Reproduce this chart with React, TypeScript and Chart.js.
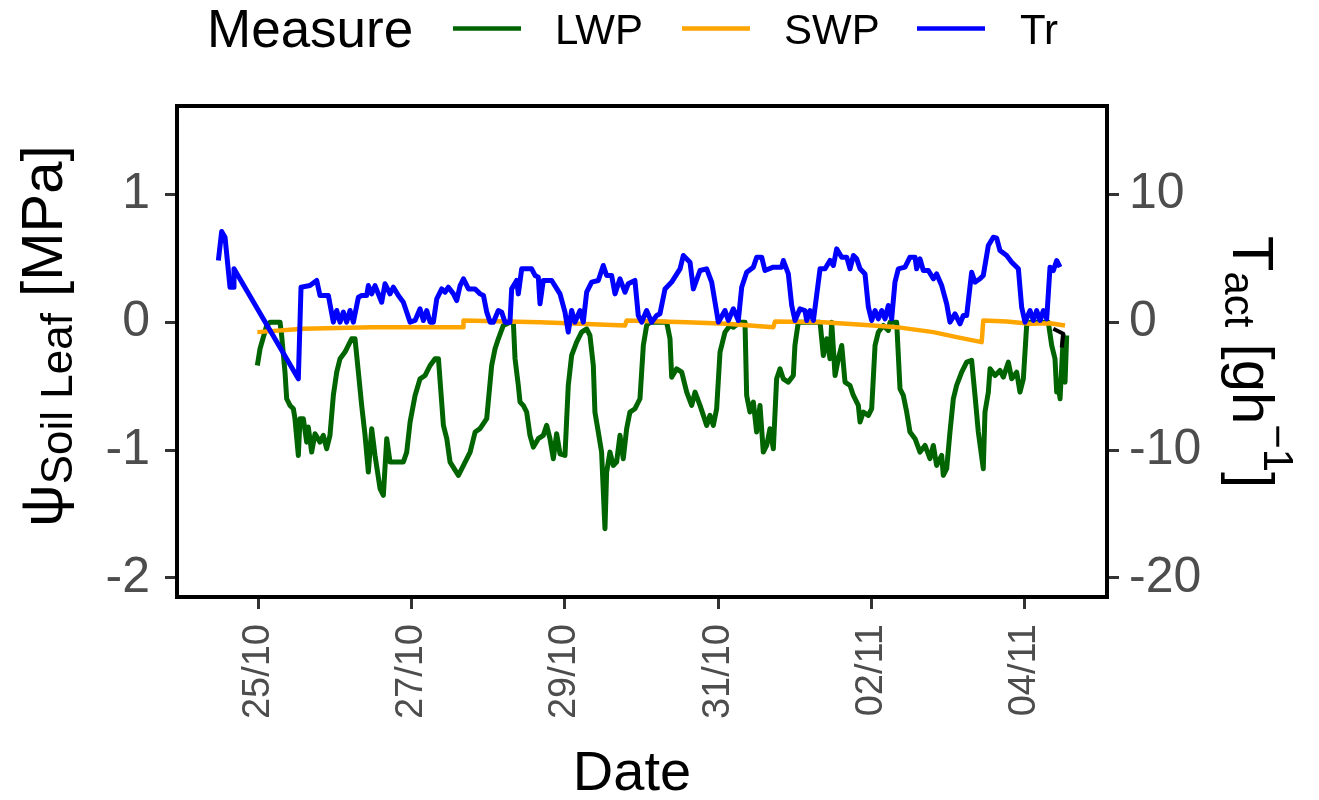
import React, { useEffect, useRef } from "react";
import { Chart, registerables } from "chart.js";

Chart.register(...registerables);

// ---- Data (x = days since 25/10 00:00) ----
const tickDays = [0, 2, 4, 6, 8, 10];
const tickLabels = ["25/10", "27/10", "29/10", "31/10", "02/11", "04/11"];
const leftTicks = [-2, -1, 0, 1];
const rightTicks = [-20, -10, 0, 10];
const legendLabels = ["LWP", "SWP", "Tr"];

const lwpDays = [
  -0.015, 0.02, 0.107, 0.15, 0.281, 0.302, 0.346, 0.368, 0.411, 0.455, 0.476, 0.52, 0.542, 0.585, 0.629, 0.65, 0.694, 0.738, 0.803, 0.846, 0.89, 0.933, 0.977,
  1.021, 1.064, 1.129, 1.173, 1.216, 1.26, 1.304, 1.347, 1.391, 1.434, 1.478, 1.521, 1.587, 1.63, 1.674, 1.717, 1.804, 1.891, 1.935, 1.979,
  2.044, 2.109, 2.175, 2.24, 2.305, 2.349, 2.414, 2.458, 2.501, 2.61, 2.676, 2.763, 2.828,
  2.892, 2.979, 3.044, 3.088, 3.131, 3.196, 3.283, 3.327, 3.349, 3.392, 3.414, 3.457, 3.501, 3.544, 3.588, 3.653, 3.718, 3.762, 3.805, 3.849, 3.892, 3.936,
  4.001, 4.044, 4.088, 4.153, 4.218, 4.284, 4.327, 4.371, 4.392, 4.436, 4.479, 4.523, 4.545, 4.588, 4.632, 4.675, 4.719, 4.762, 4.806, 4.849, 4.915, 4.98,
  5.024, 5.067, 5.111, 5.329, 5.372, 5.394, 5.459, 5.525, 5.59, 5.655, 5.699, 5.764, 5.851, 5.894, 5.938, 5.981,
  6.025, 6.09, 6.155, 6.199, 6.286, 6.351, 6.373, 6.416, 6.46, 6.503, 6.547, 6.59, 6.634, 6.677, 6.721, 6.764, 6.808, 6.851, 6.916, 6.982,
  7.003, 7.047, 7.2, 7.331, 7.374, 7.418, 7.461, 7.483, 7.527, 7.57, 7.614, 7.657, 7.722, 7.766, 7.831, 7.853, 7.896, 7.962,
  8.005, 8.049, 8.092, 8.157, 8.222, 8.244, 8.331, 8.375, 8.418, 8.462, 8.505, 8.571, 8.636, 8.701, 8.766, 8.81, 8.853, 8.919, 8.94, 8.984,
  9.027, 9.071, 9.114, 9.18, 9.245, 9.31, 9.354, 9.397, 9.462, 9.484, 9.528, 9.55, 9.615, 9.68, 9.724, 9.789, 9.833, 9.898, 9.941, 9.985,
  10.028, 10.072, 10.311, 10.355, 10.398, 10.42, 10.442, 10.464, 10.507, 10.529, 10.551,
];
const lwpValues = [
  -0.339, -0.208, -0.026, 0.0, 0.0, -0.104, -0.391, -0.599, -0.651, -0.677, -0.755, -1.042, -0.755, -0.755, -0.938, -0.82, -1.016, -0.872, -0.938, -0.885, -0.99, -0.885, -0.573,
  -0.391, -0.286, -0.234, -0.182, -0.13, -0.13, -0.391, -0.651, -0.885, -1.172, -0.833, -1.042, -1.302, -1.354, -0.911, -1.094, -1.094, -1.094, -1.016, -0.781,
  -0.573, -0.443, -0.417, -0.339, -0.286, -0.286, -0.807, -0.911, -1.094, -1.198, -1.12, -1.016, -0.859,
  -0.833, -0.755, -0.339, -0.208, -0.13, -0.026, 0.0, 0.0, -0.286, -0.495, -0.625, -0.651, -0.703, -0.885, -0.977, -0.911, -0.885, -0.807, -0.911, -1.068, -0.872, -1.029,
  -1.042, -0.495, -0.26, -0.156, -0.078, -0.052, -0.104, -0.339, -0.703, -0.859, -1.016, -1.615, -1.172, -1.016, -1.12, -1.094, -0.885, -1.068, -0.833, -0.703, -0.677, -0.599,
  -0.182, -0.026, 0.0, 0.0, -0.13, -0.43, -0.365, -0.391, -0.547, -0.651, -0.547, -0.651, -0.807, -0.729, -0.807, -0.677,
  -0.234, -0.078, -0.026, -0.039, 0.0, 0.0, -0.573, -0.703, -0.625, -0.859, -0.651, -1.016, -0.964, -0.833, -0.99, -0.443, -0.365, -0.443, -0.469, -0.417,
  -0.182, 0.0, 0.0, 0.0, -0.26, -0.13, -0.286, 0.0, -0.417, -0.286, -0.182, -0.469, -0.495, -0.573, -0.651, -0.781, -0.703, -0.729,
  -0.677, -0.182, -0.078, -0.026, -0.065, 0.0, 0.0, -0.521, -0.573, -0.703, -0.859, -0.911, -1.016, -0.964, -1.068, -0.964, -1.12, -1.042, -1.198, -1.146,
  -0.859, -0.599, -0.495, -0.391, -0.313, -0.299, -0.573, -0.859, -1.146, -0.703, -0.547, -0.365, -0.417, -0.378, -0.43, -0.313, -0.443, -0.391, -0.547, -0.443,
  -0.026, 0.0, 0.0, -0.182, -0.286, -0.547, -0.495, -0.599, -0.104, -0.469, -0.104,
];

const swpDays = [-0.015, 0.585, 1.478, 2.67, 2.676, 3.675, 4.197, 4.784, 4.806, 5.59, 6.112, 6.721, 6.743, 7.374, 8.027, 8.331, 8.81, 9.114, 9.441, 9.462, 9.767, 10.072, 10.333, 10.529];
const swpValues = [-0.078, -0.052, -0.039, -0.039, 0.013, 0.0, -0.013, -0.026, 0.013, 0.0, -0.013, -0.039, 0.005, 0.0, -0.026, -0.039, -0.078, -0.117, -0.156, 0.013, 0.005, -0.013, -0.008, -0.026];

const trDays = [
  -0.524, -0.481, -0.437, -0.372, -0.329, -0.32, 0.52, 0.555, 0.672, 0.76, 0.803, 0.912, 0.977,
  1.021, 1.064, 1.108, 1.151, 1.195, 1.238, 1.304, 1.347, 1.412, 1.434, 1.478, 1.521, 1.608, 1.652, 1.717, 1.761, 1.826, 1.891, 1.979,
  2.044, 2.109, 2.153, 2.196, 2.24, 2.283, 2.327, 2.392, 2.436, 2.479, 2.545, 2.588, 2.632, 2.676, 2.741, 2.828, 2.893, 2.937, 2.98,
  3.024, 3.066, 3.131, 3.175, 3.218, 3.283, 3.305, 3.37, 3.392, 3.436, 3.566, 3.61, 3.653, 3.675, 3.718, 3.827, 3.936,
  4.001, 4.044, 4.088, 4.131, 4.197, 4.24, 4.284, 4.349, 4.436, 4.501, 4.545, 4.61, 4.654, 4.719, 4.784, 4.827, 4.914, 4.958,
  5.002, 5.067, 5.132, 5.198, 5.241, 5.307, 5.394, 5.503, 5.546, 5.633, 5.677, 5.764, 5.851, 5.916,
  6.003, 6.09, 6.134, 6.199, 6.264, 6.308, 6.373, 6.46, 6.504, 6.569, 6.612, 6.721, 6.83, 6.852, 6.917, 6.961,
  7.004, 7.069, 7.134, 7.157, 7.2, 7.244, 7.331, 7.396, 7.461, 7.505, 7.548, 7.614, 7.679, 7.722, 7.766, 7.809, 7.853, 7.918, 7.962,
  8.005, 8.049, 8.092, 8.136, 8.179, 8.222, 8.266, 8.309, 8.353, 8.44, 8.505, 8.571, 8.592, 8.636, 8.679, 8.745, 8.81, 8.853, 8.919, 8.984,
  9.027, 9.093, 9.158, 9.201, 9.245, 9.31, 9.354, 9.419, 9.462, 9.528, 9.593, 9.637, 9.68, 9.767, 9.833, 9.92, 9.963,
  10.007, 10.072, 10.116, 10.159, 10.203, 10.246, 10.29, 10.333, 10.377, 10.42, 10.464,
];
const trValues = [
  4.82, 7.08, 6.64, 2.73, 2.73, 4.17, -4.43, 2.73, 2.86, 3.26, 2.08, 2.08, 0.0,
  0.91, 0.0, 0.78, 0.0, 0.91, 0.0, 1.95, 2.08, 2.08, 2.86, 2.21, 2.86, 1.56, 3.0, 2.21, 2.73, 2.08, 1.56, 0.0,
  0.13, 1.04, 0.13, 0.91, 0.0, 0.0, 1.82, 2.6, 2.34, 2.73, 2.21, 1.69, 2.86, 3.39, 2.6, 2.6, 2.21, 2.08, 0.78,
  0.0, 0.0, 0.91, 0.78, 0.0, 0.0, 2.6, 3.26, 2.21, 4.17, 4.17, 3.65, 3.52, 1.43, 3.26, 3.26, 2.21,
  0.78, -0.78, 0.91, 0.0, 0.91, 0.0, 2.34, 3.13, 3.26, 4.43, 3.65, 3.65, 2.21, 3.39, 2.34, 3.0, 3.26, 0.52,
  0.0, 0.91, 0.0, 0.52, 0.65, 2.6, 3.13, 4.17, 5.21, 4.69, 2.6, 4.04, 4.17, 3.13,
  0.0, 0.91, 0.13, 1.04, 0.13, 2.73, 3.9, 4.3, 5.08, 5.08, 4.04, 4.3, 4.3, 4.82, 3.77, 1.3,
  0.13, 1.04, 0.91, 0.13, 0.91, 0.13, 4.17, 4.17, 4.82, 4.43, 5.73, 5.08, 5.08, 4.17, 5.21, 4.95, 4.17, 3.77, 1.17,
  0.13, 0.91, 0.26, 0.91, 0.26, 1.3, 0.26, 3.13, 4.17, 4.3, 5.08, 5.08, 4.17, 4.95, 4.04, 4.04, 3.39, 3.77, 2.86, 1.43,
  0.0, 0.65, -0.13, 0.52, 0.52, 3.9, 3.13, 3.39, 3.65, 5.99, 6.64, 6.56, 5.6, 5.21, 4.69, 4.17, 1.17,
  0.0, 0.91, 0.13, 0.91, 0.13, 0.91, 0.26, 4.3, 4.04, 4.82, 4.3,
];

const extraDays = [10.376, 10.506, 10.486];
const extraValues = [-0.052, -0.091, -0.198];

// ---- Styles ----
const FONT = '"Liberation Sans", Arial, Helvetica, sans-serif';
const COLORS = { LWP: "#006400", SWP: "#FFA500", Tr: "#0000FF" };
const TICK_TEXT = "#4D4D4D";
const TICK_MARK = "#333333";

const zip = (xs: number[], ys: number[]) => xs.map((x, i) => ({ x, y: ys[i] }));

type Seg = { text: string; size: number; dy: number };
function drawRich(ctx: CanvasRenderingContext2D, segs: Seg[], x: number, y: number, angle: number) {
  ctx.save();
  ctx.translate(x, y);
  ctx.rotate(angle);
  ctx.fillStyle = "#000";
  ctx.textBaseline = "alphabetic";
  ctx.textAlign = "left";
  let cx = 0;
  for (const s of segs) {
    ctx.font = `${s.size}px ${FONT}`;
    ctx.fillText(s.text, cx, s.dy);
    cx += ctx.measureText(s.text).width;
  }
  ctx.restore();
}

const decorPlugin = {
  id: "decor",
  afterDraw(chart: any) {
    const ctx: CanvasRenderingContext2D = chart.ctx;
    const a = chart.chartArea;
    // panel border
    ctx.save();
    ctx.strokeStyle = "#000";
    ctx.lineWidth = 4;
    ctx.strokeRect(a.left, a.top, a.right - a.left, a.bottom - a.top);
    ctx.restore();

    // legend
    ctx.save();
    ctx.fillStyle = "#000";
    ctx.textBaseline = "alphabetic";
    ctx.font = `53px ${FONT}`;
    ctx.fillText("Measure", 207, 47);
    const keys = [
      { x0: 453, x1: 521, tx: 555 },
      { x0: 682, x1: 750, tx: 784 },
      { x0: 917, x1: 985, tx: 1020 },
    ];
    ctx.font = `42px ${FONT}`;
    legendLabels.forEach((lab, i) => {
      const k = keys[i];
      ctx.strokeStyle = (COLORS as any)[lab];
      ctx.lineWidth = 4.5;
      ctx.beginPath();
      ctx.moveTo(k.x0, 28.5);
      ctx.lineTo(k.x1, 28.5);
      ctx.stroke();
      ctx.fillStyle = "#000";
      ctx.fillText(lab, k.tx, 43.5);
    });
    ctx.restore();

    // left axis title: ψ_Soil Leaf [MPa]
    drawRich(
      ctx,
      [
        { text: "ψ", size: 60, dy: 0 },
        { text: "Soil Leaf", size: 44, dy: 10 },
        { text: " [MPa]", size: 58, dy: 0 },
      ],
      62,
      527,
      -Math.PI / 2
    );
    // right axis title: T_act [gh^-1]
    drawRich(
      ctx,
      [
        { text: "T", size: 58, dy: 0 },
        { text: "act", size: 42, dy: 8 },
        { text: " [gh", size: 58, dy: 0 },
        { text: "−1", size: 42, dy: -31 },
        { text: "]", size: 58, dy: 0 },
      ],
      1233,
      236,
      Math.PI / 2
    );
    // x axis title
    ctx.save();
    ctx.fillStyle = "#000";
    ctx.font = `56px ${FONT}`;
    ctx.textAlign = "center";
    ctx.textBaseline = "alphabetic";
    ctx.fillText("Date", 632, 790);
    ctx.restore();
  },
};

export default function App() {
  const ref = useRef<HTMLCanvasElement | null>(null);
  useEffect(() => {
    if (!ref.current) return;
    const line = (label: string, data: any[], color: string, axis: string, order: number, width: number) => ({
      label,
      data,
      borderColor: color,
      backgroundColor: color,
      borderWidth: width,
      pointRadius: 0,
      tension: 0,
      borderJoinStyle: "round" as const,
      yAxisID: axis,
      order,
    });
    const chart = new Chart(ref.current, {
      type: "line",
      data: {
        datasets: [
          line("Tr", zip(trDays, trValues), COLORS.Tr, "y1", 0, 5),
          line("", zip(extraDays, extraValues), "#000000", "y", 1, 4),
          line("SWP", zip(swpDays, swpValues), COLORS.SWP, "y", 2, 4.5),
          line("LWP", zip(lwpDays, lwpValues), COLORS.LWP, "y", 3, 5),
        ],
      },
      plugins: [decorPlugin],
      options: {
        animation: false,
        responsive: false,
        devicePixelRatio: 1,
        layout: { padding: { top: 106, left: 0, right: 0, bottom: 0 } },
        plugins: { legend: { display: false }, tooltip: { enabled: false } },
        scales: {
          x: {
            type: "linear",
            min: -1.064,
            max: 11.077,
            afterBuildTicks: (s: any) => {
              s.ticks = tickDays.map((v) => ({ value: v }));
            },
            afterFit: (s: any) => {
              s.height = 203;
            },
            ticks: {
              autoSkip: false,
              minRotation: 90,
              maxRotation: 90,
              padding: 15,
              color: TICK_TEXT,
              font: { family: FONT, size: 38 },
              callback: (_v: any, i: number) => tickLabels[i],
            },
            grid: { display: true, drawOnChartArea: false, drawTicks: true, tickLength: 12, tickColor: TICK_MARK, tickWidth: 3 },
            border: { display: false },
          },
          y: {
            type: "linear",
            position: "left",
            min: -2.149,
            max: 1.69,
            afterBuildTicks: (s: any) => {
              s.ticks = leftTicks.map((v) => ({ value: v }));
            },
            afterFit: (s: any) => {
              s.width = 177;
            },
            ticks: { padding: 15, color: TICK_TEXT, font: { family: FONT, size: 50 }, callback: (v: any) => String(v) },
            grid: { display: true, drawOnChartArea: false, drawTicks: true, tickLength: 12, tickColor: TICK_MARK, tickWidth: 3 },
            border: { display: false },
          },
          y1: {
            type: "linear",
            position: "right",
            min: -21.49,
            max: 16.9,
            afterBuildTicks: (s: any) => {
              s.ticks = rightTicks.map((v) => ({ value: v }));
            },
            afterFit: (s: any) => {
              s.width = 212;
            },
            ticks: { padding: 10, color: TICK_TEXT, font: { family: FONT, size: 50 }, callback: (v: any) => String(v) },
            grid: { display: true, drawOnChartArea: false, drawTicks: true, tickLength: 12, tickColor: TICK_MARK, tickWidth: 3 },
            border: { display: false },
          },
        },
      },
    } as any);
    return () => chart.destroy();
  }, []);
  return (
    <div style={{ position: "fixed", left: 0, top: 0, width: 1319, height: 800, background: "#fff" }}>
      <canvas ref={ref} width={1319} height={800} style={{ display: "block", width: 1319, height: 800 }} />
    </div>
  );
}
